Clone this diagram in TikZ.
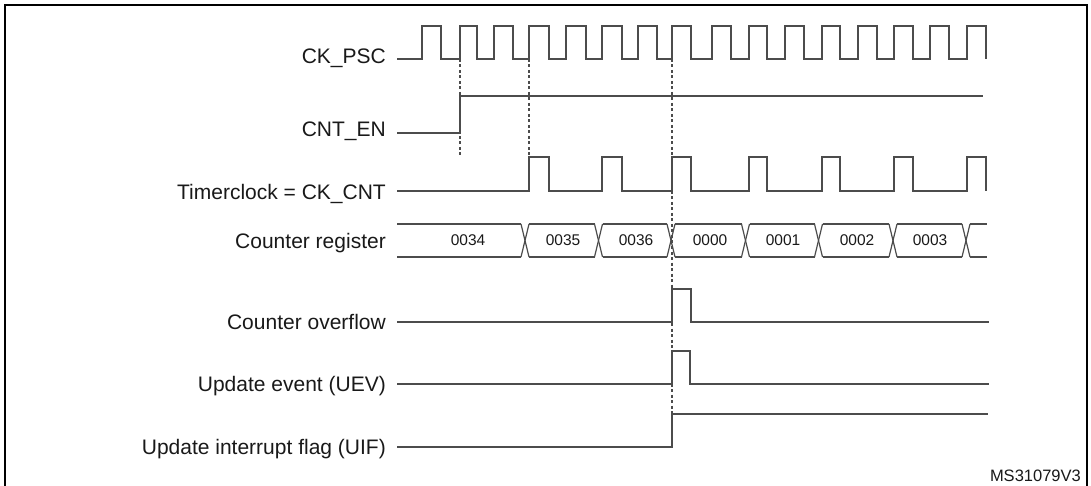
\documentclass[tikz,border=0pt]{standalone}
\usepackage{fontspec}
\setmainfont{Liberation Sans}
\begin{document}
\begin{tikzpicture}[x=1pt,y=-1pt,
  sig/.style={draw=black!70, line width=1.2pt, line join=miter},
  guide/.style={draw=black!70, line width=1.1pt, dash pattern=on 3pt off 2.5pt},
  lbl/.style={anchor=base east, inner sep=0pt, text=black!90, font=\fontsize{21}{25}\selectfont},
  val/.style={inner sep=0pt, text=black!90, font=\fontsize{15.5}{18}\selectfont},
  tag/.style={anchor=base east, inner sep=0pt, text=black!90, font=\fontsize{16.5}{19}\selectfont},
  frame/.style={draw=black, line width=2.5pt}
]
\useasboundingbox (0,0) rectangle (1091,486);
\clip (0,0) rectangle (1091,486);

% frame
\draw[frame] (5,5) rectangle (1087,500);

% labels
\node[lbl] (lpsc) at (386,63.5) {CK\_PSC};
\node[lbl] (len)  at (386,136.7) {CNT\_EN};
\node[lbl] (lcnt) at (386,199.3) {Timerclock = CK\_CNT};
\node[lbl] (lreg) at (386,248.3) {Counter register};
\node[lbl] (lovf) at (386,329.5) {Counter overflow};
\node[lbl] (luev) at (386,391.5) {Update event (UEV)};
\node[lbl] (luif) at (386,454.5) {Update interrupt flag (UIF)};
\node[tag] (ref)  at (1081,481) {MS31079V3};

% guide lines
\draw[guide] (460,59) -- (460,157);
\draw[guide] (529,59) -- (529,157);
\draw[guide] (672,59) -- (672,414);

% CK_PSC
\draw[sig] (397,59) \foreach \r/\f in {422/441,460/477,494/513,529/549,566/586,602/622,638/657,672/691,712/731,749/767,785/804,822/840,858/877,894/913,930/949,967/986} { -- (\r,59) -- (\r,26) -- (\f,26) -- (\f,59) };

% CNT_EN
\draw[sig] (397,133) -- (460,133) -- (460,96) -- (983,96);

% Timerclock
\draw[sig] (397,191) \foreach \r/\f in {529/549,602/622,672/691,749/767,822/840,894/913,967/986} { -- (\r,191) -- (\r,157) -- (\f,157) -- (\f,191) };

% Counter register bus
\foreach \a/\b in {397/521,529/594.5,602.5/667,675/741.5,749.5/814.5,822.5/889,897/962,970/987} {
  \draw[sig] (\a,224) -- (\b,224);
  \draw[sig] (\a,257) -- (\b,257);
}
\foreach \c in {525,598.5,671,745.5,818.5,893,966} {
  \draw[sig] (\c-4,224) -- (\c+4,257);
  \draw[sig] (\c-4,257) -- (\c+4,224);
}
\node[val] (v34) at (468,240.5) {0034};
\node[val] (v35) at (563,240.5) {0035};
\node[val] (v36) at (636,240.5) {0036};
\node[val] (v00) at (710,240.5) {0000};
\node[val] (v01) at (783,240.5) {0001};
\node[val] (v02) at (857,240.5) {0002};
\node[val] (v03) at (930,240.5) {0003};

% Counter overflow
\draw[sig] (397,322) -- (672,322) -- (672,289) -- (691,289) -- (691,322) -- (989,322);
% UEV
\draw[sig] (397,384) -- (672,384) -- (672,351) -- (690,351) -- (690,384) -- (989,384);
% UIF
\draw[sig] (397,447) -- (672,447) -- (672,414) -- (988,414);
\end{tikzpicture}
\end{document}
